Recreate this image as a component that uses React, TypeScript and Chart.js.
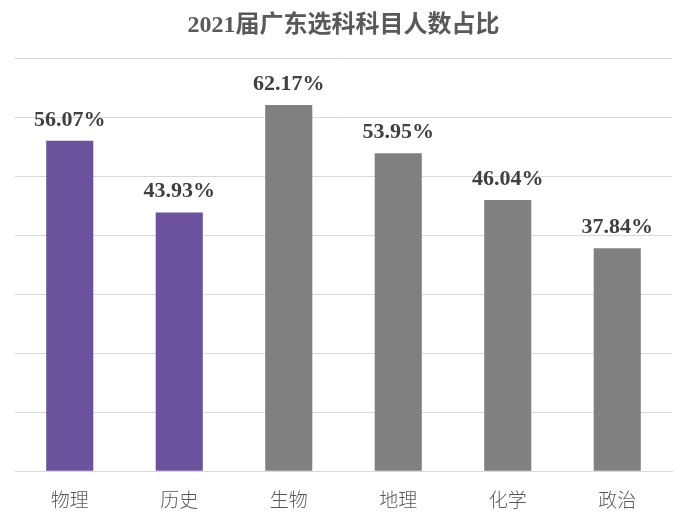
import React, { useEffect, useRef } from "react";
import { Chart, registerables } from "chart.js";

Chart.register(...registerables);

const title = "2021届广东选科科目人数占比";
const categories = ["物理", "历史", "生物", "地理", "化学", "政治"];
const values = [56.07, 43.93, 62.17, 53.95, 46.04, 37.84];
const barColors = ["#6c519c", "#6c519c", "#808080", "#808080", "#808080", "#808080"];
const yMax = 70;
const yStep = 10;

const labelPlugin = {
  id: "barLabels",
  afterDatasetsDraw(chart: any) {
    const { ctx } = chart;
    const meta = chart.getDatasetMeta(0);
    ctx.save();
    ctx.font = "bold 22px 'Liberation Serif', serif";
    ctx.fillStyle = "#404040";
    ctx.textAlign = "center";
    ctx.textBaseline = "bottom";
    meta.data.forEach((el: any, i: number) => {
      ctx.fillText(values[i].toFixed(2) + "%", el.x, el.y - 10);
    });
    ctx.restore();
  },
};

export default function App() {
  const ref = useRef<HTMLCanvasElement>(null);
  useEffect(() => {
    document.body.style.margin = "0";
    const chart = new Chart(ref.current!, {
      type: "bar",
      data: {
        labels: categories,
        datasets: [
          {
            data: values,
            backgroundColor: barColors,
            categoryPercentage: 1,
            barPercentage: 0.43,
          },
        ],
      },
      options: {
        animation: false,
        responsive: false,
        layout: { padding: { left: 15, right: 19, top: 0, bottom: 4 } },
        plugins: {
          legend: { display: false },
          tooltip: { enabled: false },
          title: {
            display: true,
            text: title,
            color: "#595959",
            font: { family: "'Liberation Serif', 'Noto Sans CJK SC'", size: 24, weight: "bold" },
            padding: { top: 11, bottom: 19 },
          },
        },
        scales: {
          x: {
            grid: { display: false },
            border: { display: true, color: "#d9d9d9" },
            ticks: {
              color: "#595959",
              font: { family: "'Noto Sans CJK SC'", size: 19, weight: "300" },
              padding: 9,
            },
          },
          y: {
            min: 0,
            max: yMax,
            ticks: { display: false, stepSize: yStep },
            grid: { color: "#d9d9d9", drawTicks: false },
            border: { display: false },
          },
        },
      },
      plugins: [labelPlugin],
    });
    return () => chart.destroy();
  }, []);
  return <canvas ref={ref} width={691} height={524} style={{ display: "block" }} />;
}
